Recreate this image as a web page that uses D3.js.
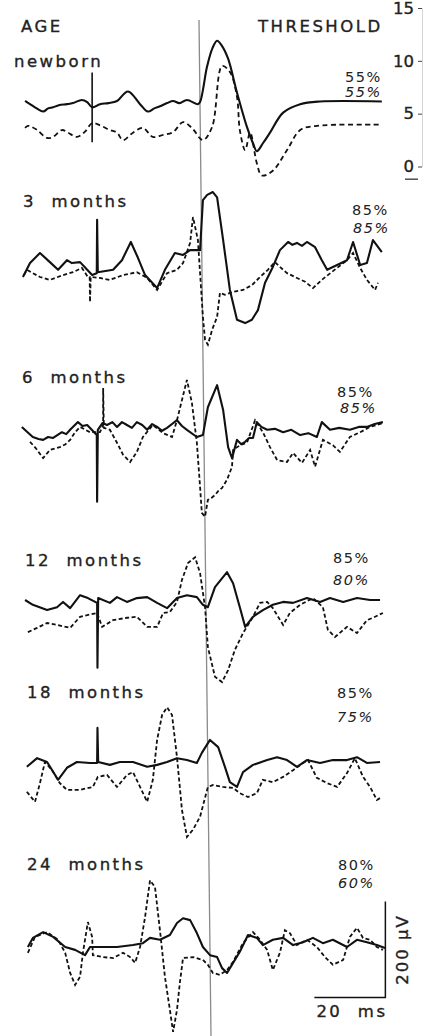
<!DOCTYPE html>
<html>
<head>
<meta charset="utf-8">
<script src="https://cdn.jsdelivr.net/npm/d3@7"></script>
<style>
body { margin: 0; background: #fff; }
text { font-family: "DejaVu Sans", sans-serif; fill: #222; }
.lbl { stroke: #222; stroke-width: 0.35px; }
</style>
</head>
<body>
<div id="chart"></div>
<script>
// labels
var ageLabels = ['newborn', '3  months', '6  months', '12  months', '18  months', '24  months'];
var threshSolid = ['55%', '85%', '85%', '85%', '85%', '80%'];   // upright
var threshDashed = ['55%', '85%', '85%', '80%', '75%', '60%'];  // italic
var ampTicks = [0, 5, 10, 15];   // right axis of newborn panel

// traces: [ms from stimulus, amplitude] (newborn in axis units, others in µV)
var newbornSolid = [[-49,6.2],[-47.6,5.9],[-46.2,5.6],[-43.9,5.2],[-42.5,5.5],[-41.1,5.6],[-39.5,5.8],[-37.2,5.9],[-35.5,6.0],[-33,6.3],[-31.5,6.1],[-30.1,5.6],[-27.9,5.9],[-25.5,6.0],[-23.1,6.2],[-20,7.1],[-16.6,5.9],[-14.4,5.2],[-12.6,5.5],[-11,5.7],[-9,6.0],[-7.3,6.2],[-5.5,6.0],[-3.4,6.3],[-0.3,5.9],[0.3,6.1],[2.3,9.5],[3.8,11.2],[5.1,11.9],[6.5,11.4],[8.2,10.2],[10.7,7.0],[13.5,3.75],[15.2,2.2],[16.3,1.45],[18,2.2],[20,3.2],[23.7,5.1],[28.5,5.9],[34.1,6.15],[51.5,6.15]];
var newbornDashed = [[-49,3.65],[-48.2,3.85],[-47.2,3.75],[-45.6,3.45],[-42.8,2.7],[-41.1,2.8],[-38.6,3.45],[-36.9,3.2],[-34.4,2.8],[-32.1,3.3],[-30.1,4.1],[-27.9,3.9],[-25.1,3.45],[-23.1,3.2],[-21.4,2.5],[-18.6,3.2],[-15.8,3.65],[-13,2.8],[-10.1,3.0],[-7.3,3.25],[-4.5,4.2],[-2,3.65],[1.1,2.5],[3.7,3.75],[6.5,9.5],[8.7,8.95],[10.7,6.6],[11.5,3.45],[13,1.55],[14.4,3.2],[16.3,0.3],[17.7,-0.85],[20.8,-0.4],[24.8,1.55],[28.5,3.45],[33.2,3.85],[51.5,3.95]];
var newbornMarker = [-30.1, 2.3, 8.9];

var m3Solid = [[-49.6,0],[-47.6,29],[-44.8,50],[-42,31],[-39.7,15],[-37.2,35],[-35.8,29],[-33.5,31],[-31.5,15],[-30.1,4],[-28.8,8],[-28.7,119],[-28.5,10],[-24.2,15],[-21.7,35],[-19.2,73],[-17.2,40],[-15.2,4],[-11.8,-23],[-9.6,15],[-6.8,50],[-4.5,46],[-2.5,56],[-0.3,56],[0.3,56],[1.1,160],[2.3,171],[3.9,177],[5.1,166],[6.8,77],[8.7,-27],[10.7,-89],[13,-96],[14.9,-89],[16.6,-69],[18.6,-12],[20.8,21],[22.8,56],[25.1,73],[26.3,67],[27.6,71],[29,65],[30.4,73],[32.7,62],[34.6,35],[36.1,15],[38.9,25],[41.7,35],[43.4,73],[45.4,25],[47.3,29],[49,77],[51.5,52]];
var m3Dashed = [[-49.3,4],[-48.5,15],[-44.8,0],[-42,-6],[-38.3,4],[-35.5,10],[-33,19],[-31.3,0],[-30.8,0],[-30.7,-52],[-30.5,0],[-27.9,-2],[-25.1,-6],[-21.4,4],[-17.5,10],[-14.6,-2],[-11.8,-27],[-9,8],[-6.2,15],[-4.5,29],[-2.5,71],[-1.7,125],[-0.3,77],[1.1,-83],[1.7,-131],[2.5,-141],[3.7,-110],[5.1,-83],[5.9,-33],[7.3,-37],[9.6,-31],[12.4,-27],[14.9,-17],[17.2,0],[19.4,15],[21.4,31],[22.8,21],[24.8,8],[27.6,-2],[29.9,-10],[32.1,-23],[34.6,-6],[36.3,4],[38.9,19],[41.7,35],[43.4,50],[45.4,19],[47.3,-6],[49.6,-27],[50.4,-12]];

var m6Solid = [[-49.9,-4],[-48.3,-15],[-46.8,-25],[-45.2,-29],[-43.9,-31],[-42.5,-25],[-41.1,-27],[-38.6,-15],[-37.4,-19],[-36.3,-10],[-34.1,6],[-32.8,-2],[-31.5,0],[-28.8,-21],[-28.7,-160],[-28.5,-10],[-27.2,4],[-25.9,0],[-24.4,6],[-23.1,-4],[-21.7,6],[-20.3,0],[-18.9,-6],[-17.5,6],[-16,0],[-14.6,-10],[-13.2,2],[-11.8,-4],[-10.4,-12],[-9,-6],[-7.6,2],[-6.2,10],[-4.8,-2],[-3.4,-10],[-0.6,-25],[1.1,-21],[2.5,37],[5.1,83],[6.8,31],[8.2,-46],[9.3,-69],[10.7,-31],[11.9,-40],[13,-35],[14.1,-27],[15.2,-27],[16.3,6],[17.6,-4],[19.2,-10],[21.4,-8],[23.7,-15],[26,-10],[28.5,-21],[30.8,-17],[33.2,-25],[34.6,6],[36.9,-10],[39.5,-6],[42.5,-10],[45,-4],[47.3,-4],[49.5,2],[51.8,6]];
var m6Dashed = [[-47.6,-35],[-46,-48],[-43.9,-69],[-42,-52],[-39.2,-46],[-37.6,-40],[-36.3,-31],[-34.9,-15],[-33.5,-4],[-30.7,-15],[-27.9,-15],[-27,0],[-27,77],[-26.8,-6],[-25.1,-10],[-23.1,-37],[-21.4,-62],[-19.4,-77],[-17.5,-56],[-15.8,-25],[-13,0],[-11.6,-8],[-10.1,-17],[-7.6,-25],[-6.2,10],[-4.8,52],[-3.4,94],[-2,46],[-0.6,-37],[0.3,-129],[0.8,-183],[1.7,-191],[2.5,-156],[3.5,-152],[4.5,-146],[5.5,-137],[6.5,-131],[7.9,-114],[9.3,-87],[9.6,-52],[11.6,-42],[13.5,-37],[15.8,10],[18,-15],[20,-46],[22,-73],[24.8,-77],[26.5,-58],[29,-79],[31.3,-52],[32.7,-87],[34.9,-31],[37.7,-42],[39.7,-56],[42.5,-25],[45.4,-15],[48.2,-4],[51.8,4]];

var m12Solid = [[-49,0],[-46.8,-10],[-42.8,-21],[-40,-15],[-38.3,-4],[-36.3,-17],[-33.5,10],[-31.3,4],[-28.7,-6],[-28.6,-141],[-28.4,4],[-25.1,-6],[-23.1,6],[-20.3,-4],[-17.5,4],[-14.6,6],[-11.8,-6],[-9,-17],[-6.2,4],[-3.4,10],[-0.6,6],[1.1,-10],[2.5,-15],[4.5,27],[7.9,58],[9.6,35],[11.5,-15],[13,-56],[15.2,-35],[18,-21],[20.8,-10],[23.7,-4],[26.5,-6],[30.4,4],[34.1,-4],[36.9,4],[40.6,-4],[44.5,4],[48.2,0],[51,0]];
var m12Dashed = [[-48.2,-67],[-45.6,-58],[-42.8,-48],[-40,-52],[-36.3,-58],[-33.5,-35],[-28.7,-27],[-27.3,-56],[-24.2,-42],[-20.3,-37],[-17.5,-35],[-14.6,-56],[-11.8,-56],[-10.1,-27],[-8.2,-25],[-6.2,-4],[-4.8,42],[-3.1,77],[-1.1,89],[0.3,56],[1.7,-15],[2.5,-98],[4.5,-160],[6.5,-171],[8.2,-146],[10.1,-104],[12.4,-69],[15.2,-35],[17.2,-6],[19.2,-4],[20.8,-17],[23.7,-52],[25.6,-27],[28.5,-10],[32.1,4],[34.9,-15],[36.3,-62],[38.3,-77],[41.7,-56],[44.5,-69],[47.3,-42],[49,-37],[51.8,-27]];

var m18Solid = [[-48.5,-10],[-45.6,8],[-42.8,0],[-39.7,-37],[-37.2,-12],[-34.4,0],[-30.7,-2],[-28.7,-2],[-28.6,71],[-28.4,0],[-25.1,-6],[-22.3,0],[-18.6,0],[-14.6,-10],[-11.8,-6],[-9,0],[-6.2,8],[-3.4,4],[-0.6,-2],[0.8,19],[3.1,46],[5.4,31],[7.3,-10],[8.7,-42],[10.7,-52],[12.4,-21],[15.2,-6],[19.2,4],[22,10],[24.8,4],[27.6,-10],[30.4,4],[34.1,-2],[37.7,4],[41.7,4],[44.5,10],[47.3,-2],[51,0]];
var m18Dashed = [[-48.5,-62],[-46.2,-83],[-44.8,-44],[-43.4,0],[-41.4,-17],[-39.2,-44],[-37.2,-58],[-33.5,-58],[-29.9,-52],[-28.5,-31],[-25.9,-27],[-23.1,-52],[-20.3,-27],[-18.6,-21],[-16.6,-52],[-14.6,-83],[-13,-37],[-11.8,46],[-10.4,98],[-9,114],[-7.6,98],[-6.2,10],[-4.8,-100],[-3.4,-156],[-1.7,-141],[0.3,-114],[2.5,-52],[3.9,-48],[6.8,-52],[9.6,-54],[11.5,-65],[13.8,-73],[16.3,-65],[18,-37],[20.8,-42],[23.7,-31],[26.5,-17],[29.3,-2],[30.7,4],[33.2,-33],[36.1,-44],[38.9,-52],[41.7,-23],[43.9,8],[46.2,-31],[48.2,-52],[50.1,-79],[51.5,-73]];

var m24Solid = [[-48.2,0],[-46.8,19],[-43.9,31],[-41.1,21],[-37.7,0],[-34.9,-6],[-32.1,-17],[-30.7,0],[-23.1,0],[-18.6,4],[-15.8,8],[-13.8,19],[-11,15],[-8.2,25],[-6.2,50],[-4.5,60],[-2.5,56],[-0.6,29],[1.1,0],[3.1,-17],[5.1,-21],[6.5,-44],[7.9,-54],[9.6,-33],[11.5,-10],[13.8,25],[16.3,19],[18,4],[20.8,15],[23.7,19],[26.5,4],[29.3,10],[32.1,19],[34.9,8],[37.7,15],[41.7,0],[44.5,15],[47.3,10],[50.1,4],[52.4,-2]];
var m24Dashed = [[-48.2,-12],[-46.2,21],[-42.8,31],[-39.7,15],[-37.7,-12],[-36.3,-54],[-34.9,-79],[-33.5,-62],[-32.7,-12],[-31.3,52],[-30.1,21],[-29.9,-17],[-27,-21],[-24.2,-23],[-21.4,-12],[-19.4,-21],[-18,-33],[-16.6,0],[-15.2,62],[-13.8,139],[-12.4,125],[-11,35],[-9.6,-62],[-8.2,-131],[-7.3,-177],[-6.2,-131],[-5.4,-75],[-4.5,-23],[-1.7,-21],[1.1,-27],[2.5,-37],[3.9,-54],[5.9,-58],[7.9,-48],[9.6,-31],[12.4,8],[15.2,31],[17.2,15],[19.2,-6],[20.8,-48],[22.8,-12],[24.2,35],[25.6,29],[27.6,4],[30.4,15],[33.2,0],[35.5,-21],[37.7,-37],[40.6,-27],[42.5,21],[44.5,40],[46.2,19],[48.2,15],[50.1,0],[51.8,-6]];

var solidTraces = [newbornSolid, m3Solid, m6Solid, m12Solid, m18Solid, m24Solid];
var dashedTraces = [newbornDashed, m3Dashed, m6Dashed, m12Dashed, m18Dashed, m24Dashed];

// layout
var width = 426, height = 1036;
var panelBase = [null, 277, 425, 600, 762, 947];   // zero level of µV panels
var pxPer200uV = 96;
var ageX = [14, 23, 22, 25, 27, 27];
var ageY = [67, 207, 383, 566, 698, 870];
var pctX = [[345, 345], [352, 353], [337, 340], [333, 333], [337, 337], [338, 338]];
var pctY = [[82, 97], [215, 233], [397, 413], [563, 585], [698, 722], [870, 888]];
var lineSkew = 12;   // the stimulus line leans a little in the scan

var svg = d3.select('#chart').append('svg')
    .attr('width', width)
    .attr('height', height);

var x = d3.scaleLinear().domain([-50, 52]).range([21.5, 383.6]);
var yTop = d3.scaleLinear().domain([0, 15]).range([166.5, 8]);

function panelY(i) {
    if (i == 0) return yTop;
    return d3.scaleLinear().domain([-200, 200])
        .range([panelBase[i] + pxPer200uV, panelBase[i] - pxPer200uV]);
}

// stimulus line
svg.append('line')
    .attr('x1', x(0)).attr('y1', 20)
    .attr('x2', x(0) + lineSkew).attr('y2', height)
    .attr('stroke', '#8a8a8a')
    .attr('stroke-width', 1.3);

// headers
svg.append('text').attr('class', 'lbl').attr('x', 21).attr('y', 32)
    .style('font-size', '16.5px').style('letter-spacing', '2.5px')
    .text('AGE');
svg.append('text').attr('class', 'lbl').attr('x', 258).attr('y', 32)
    .style('font-size', '16.5px').style('letter-spacing', '2.5px')
    .text('THRESHOLD');

// right axis of the newborn panel
var gAxis = svg.append('g')
    .attr('transform', 'translate(422,0)')
    .call(d3.axisLeft(yTop).tickValues(ampTicks).tickSize(4).tickPadding(4).tickSizeOuter(0));
gAxis.select('.domain').attr('stroke', '#d4d4d4');
gAxis.selectAll('.tick line').attr('stroke', '#444');
gAxis.selectAll('.tick text')
    .attr('class', 'lbl')
    .style('font-size', '16.5px')
    .style('font-family', '"DejaVu Sans", sans-serif')
    .attr('fill', '#333');
gAxis.append('line')
    .attr('x1', -17).attr('x2', -4)
    .attr('y1', yTop(-1.2)).attr('y2', yTop(-1.2))
    .attr('stroke', '#333').attr('stroke-width', 1.3);

// panels
for (var i = 0; i < ageLabels.length; i++) {
    var y = panelY(i);
    var line = d3.line()
        .x(function(d) { return x(d[0]); })
        .y(function(d) { return y(d[1]); })
        .curve(i == 0 ? d3.curveCatmullRom : d3.curveLinear);

    svg.append('path')
        .datum(dashedTraces[i])
        .attr('d', line)
        .attr('fill', 'none')
        .attr('stroke', '#111')
        .attr('stroke-width', 1.8)
        .attr('stroke-dasharray', i == 0 ? '5,3.5' : '4,2.5');

    svg.append('path')
        .datum(solidTraces[i])
        .attr('d', line)
        .attr('fill', 'none')
        .attr('stroke', '#111')
        .attr('stroke-width', 2.1)
        .attr('stroke-linejoin', 'round');

    svg.append('text')
        .attr('class', 'lbl')
        .attr('x', ageX[i]).attr('y', ageY[i])
        .attr('xml:space', 'preserve')
        .style('font-size', '16.5px').style('letter-spacing', '2.5px')
        .text(ageLabels[i]);

    svg.append('text')
        .attr('x', pctX[i][0]).attr('y', pctY[i][0])
        .style('font-size', '14.5px').style('letter-spacing', '1.5px')
        .text(threshSolid[i]);
    svg.append('text')
        .attr('x', pctX[i][1]).attr('y', pctY[i][1])
        .style('font-size', '14.5px').style('letter-spacing', '1.5px')
        .style('font-style', 'italic')
        .attr('fill', '#444')
        .text(threshDashed[i]);
}

// newborn stimulus marker
svg.append('line')
    .attr('x1', x(newbornMarker[0])).attr('x2', x(newbornMarker[0]))
    .attr('y1', yTop(newbornMarker[1])).attr('y2', yTop(newbornMarker[2]))
    .attr('stroke', '#111').attr('stroke-width', 1.6);

// scale bar: 20 ms x 200 µV
var yLast = panelY(5);
var barT = 52.5, barV = -105;
svg.append('path')
    .attr('d', 'M' + x(barT - 20) + ',' + yLast(barV) +
               'H' + x(barT) +
               'V' + yLast(barV + 200))
    .attr('fill', 'none')
    .attr('stroke', '#111')
    .attr('stroke-width', 1.5);
svg.append('text')
    .attr('class', 'lbl')
    .attr('x', x(barT - 20) + 2).attr('y', 1017)
    .attr('xml:space', 'preserve')
    .style('font-size', '16.5px').style('letter-spacing', '2.5px')
    .text('20  ms');
svg.append('text')
    .attr('class', 'lbl')
    .attr('transform', 'translate(408,' + yLast(barV + 100) + ') rotate(-90)')
    .attr('text-anchor', 'middle')
    .attr('xml:space', 'preserve')
    .style('font-size', '16.5px').style('letter-spacing', '2px')
    .text('200 µV');
</script>
</body>
</html>
